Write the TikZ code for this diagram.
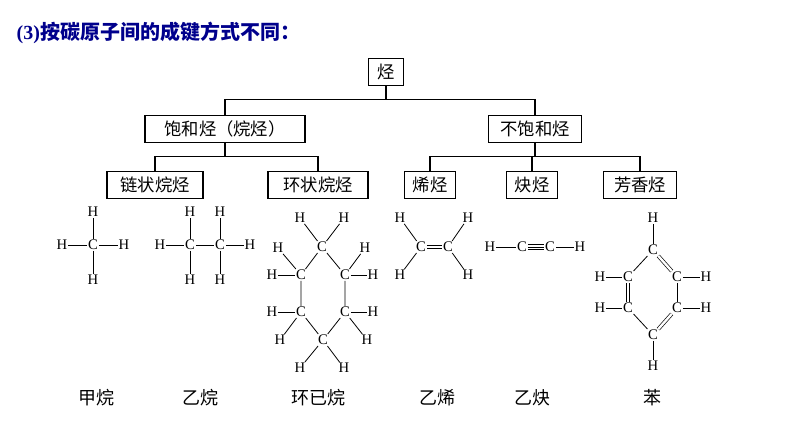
\documentclass[tikz,border=0pt]{standalone}
\usepackage{fontspec}
\setmainfont{Liberation Serif}
\newfontfamily\cjk{Noto Sans CJK SC}
\begin{document}
\begin{tikzpicture}[x=0.75pt,y=-0.75pt,
  box/.style={draw,thick,inner sep=0pt,minimum height=20pt,font=\cjk\fontsize{13}{13}\selectfont},
  atm/.style={inner sep=0.6pt,font=\fontsize{11}{11}\selectfont},
  lab/.style={font=\cjk\fontsize{13.5}{14}\selectfont},
  bond/.style={line width=0.6pt},
  dbl/.style={double,double distance=1.8pt,line width=0.5pt}]
\useasboundingbox (0,0) rectangle (794,447);
\node[anchor=west,text=blue!55!black,font=\bfseries\fontsize{15}{15}\selectfont] (title) at (12,33) {(3){\cjk\bfseries 按碳原子间的成键方式不同：}};
% tree
\node[box,minimum width=26pt] (r) at (386,72) {烃};
\node[box,minimum width=120pt] (s) at (225,129) {饱和烃（烷烃）};
\node[box,minimum width=70pt] (u) at (535,129) {不饱和烃};
\node[box,minimum width=72pt] (s1) at (155,185) {链状烷烃};
\node[box,minimum width=75pt] (s2) at (318,185) {环状烷烃};
\node[box,minimum width=38pt] (u1) at (430,185) {烯烃};
\node[box,minimum width=38pt] (u2) at (532,185) {炔烃};
\node[box,minimum width=55pt] (u3) at (640,185) {芳香烃};
\begin{scope}[thick]
\draw (r.south) -- ++(0,14) coordinate (j0);
\draw (s.north) |- (j0) -| (u.north);
\draw (s.south) -- ++(0,14) coordinate (j1);
\draw (s1.north) |- (j1) -| (s2.north);
\draw (u.south) -- ++(0,14) coordinate (j2);
\draw (u1.north) |- (j2) -| (u3.north);
\draw (u2.north) -- (u2.north |- j2);
\end{scope}
% methane
\node[atm] (mc) at (93,245) {C};
\node[atm] (mh1) at (93,212) {H}; \node[atm] (mh2) at (93,280) {H};
\node[atm] (mh3) at (62,245) {H}; \node[atm] (mh4) at (124,245) {H};
\foreach \h in {mh1,mh2,mh3,mh4} \draw[bond] (mc)--(\h);
% ethane
\node[atm] (ea) at (190,245) {C}; \node[atm] (eb) at (220,245) {C};
\node[atm] (eh1) at (190,212) {H}; \node[atm] (eh2) at (220,212) {H};
\node[atm] (eh3) at (190,280) {H}; \node[atm] (eh4) at (220,280) {H};
\node[atm] (eh5) at (160,245) {H}; \node[atm] (eh6) at (250,245) {H};
\draw[bond] (ea)--(eb);
\foreach \h in {eh1,eh3,eh5} \draw[bond] (ea)--(\h);
\foreach \h in {eh2,eh4,eh6} \draw[bond] (eb)--(\h);
% cyclohexane
\node[atm] (c1) at (322,247) {C}; \node[atm] (c2) at (345,275) {C};
\node[atm] (c3) at (345,312) {C}; \node[atm] (c4) at (323,340) {C};
\node[atm] (c5) at (301,312) {C}; \node[atm] (c6) at (301,275) {C};
\draw[bond] (c1)--(c2)--(c3)--(c4)--(c5)--(c6)--(c1);
\node[atm] (h1a) at (300,218) {H}; \node[atm] (h1b) at (344,218) {H};
\node[atm] (h2a) at (365,248) {H}; \node[atm] (h2b) at (373,275) {H};
\node[atm] (h3a) at (373,312) {H}; \node[atm] (h3b) at (367,340) {H};
\node[atm] (h4a) at (300,368) {H}; \node[atm] (h4b) at (344,368) {H};
\node[atm] (h5a) at (272,312) {H}; \node[atm] (h5b) at (280,340) {H};
\node[atm] (h6a) at (278,248) {H}; \node[atm] (h6b) at (272,275) {H};
\foreach \i in {1,...,6} {\draw[bond] (c\i)--(h\i a); \draw[bond] (c\i)--(h\i b);}
% ethylene
\node[atm] (ya) at (421,247) {C}; \node[atm] (yb) at (448,247) {C};
\node[atm] (yh1) at (400,218) {H}; \node[atm] (yh2) at (468,218) {H};
\node[atm] (yh3) at (400,275) {H}; \node[atm] (yh4) at (468,275) {H};
\draw[dbl] (ya)--(yb);
\draw[bond] (ya)--(yh1) (ya)--(yh3) (yb)--(yh2) (yb)--(yh4);
% acetylene
\node[atm] (ah1) at (490,247) {H}; \node[atm] (aa) at (522,247) {C};
\node[atm] (ab) at (550,247) {C}; \node[atm] (ah2) at (580,247) {H};
\draw[bond] (ah1)--(aa) (ab)--(ah2);
\draw[double,double distance=3pt,line width=0.5pt] (aa)--(ab);
\draw[line width=0.5pt] (aa)--(ab);
% benzene
\node[atm] (b1) at (653,250) {C}; \node[atm] (b2) at (677,277) {C};
\node[atm] (b3) at (677,308) {C}; \node[atm] (b4) at (653,335) {C};
\node[atm] (b5) at (628,308) {C}; \node[atm] (b6) at (628,277) {C};
\draw[dbl] (b1)--(b2); \draw[bond] (b2)--(b3); \draw[dbl] (b3)--(b4);
\draw[bond] (b4)--(b5); \draw[dbl] (b5)--(b6); \draw[bond] (b6)--(b1);
\node[atm] (bh1) at (653,218) {H}; \node[atm] (bh2) at (706,277) {H};
\node[atm] (bh3) at (706,308) {H}; \node[atm] (bh4) at (653,366) {H};
\node[atm] (bh5) at (600,308) {H}; \node[atm] (bh6) at (600,277) {H};
\foreach \i in {1,...,6} \draw[bond] (b\i)--(bh\i);
% labels
\node[lab] (l1) at (97,398) {甲烷};
\node[lab] (l2) at (200,398) {乙烷};
\node[lab] (l3) at (318,398) {环已烷};
\node[lab] (l4) at (437,398) {乙烯};
\node[lab] (l5) at (532,398) {乙炔};
\node[lab] (l6) at (652,398) {苯};
\end{tikzpicture}
\end{document}
